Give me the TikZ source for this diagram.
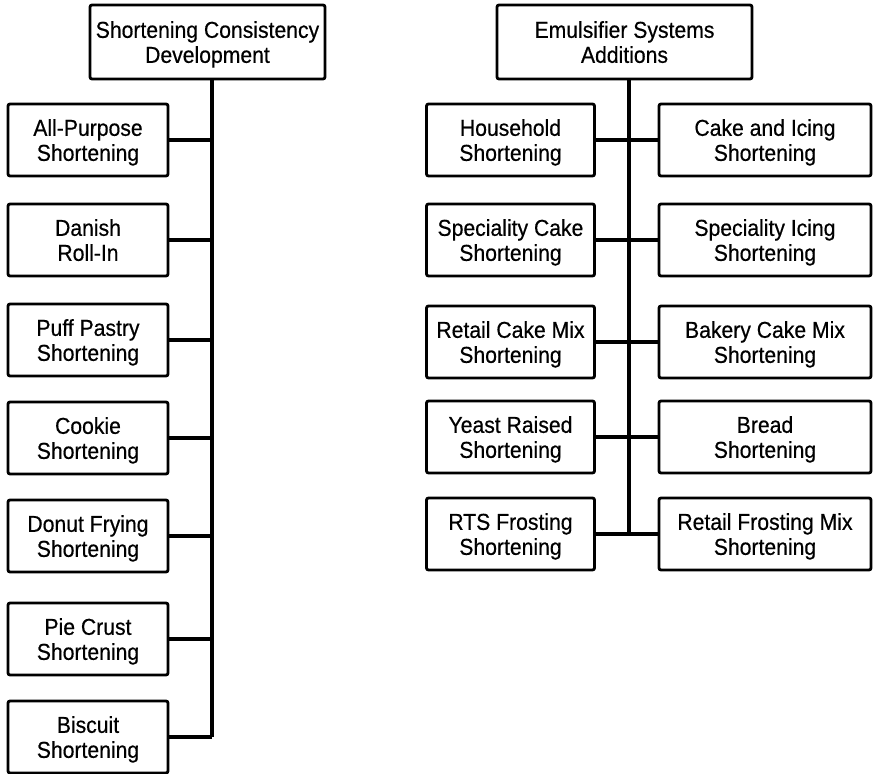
\documentclass[tikz,border=0pt]{standalone}
\usepackage{fontspec}
\setmainfont{Liberation Sans}[FakeStretch=0.92,FakeBold=0.5]
\begin{document}
\begin{tikzpicture}[x=0.5pt,y=-0.5pt,
    box/.style={draw, line width=1.4pt, rounded corners=1pt, align=center, inner sep=0pt,
                text depth=-2pt, font=\fontsize{11.5}{12.5}\selectfont},
    link/.style={line width=1.9pt}]
  \useasboundingbox (0,0) rectangle (873,774);
  % left tree
  \begin{scope}[every node/.style={box, minimum width=80pt, minimum height=36pt}]
    \node[minimum width=117.5pt, minimum height=37pt] (SCD) at (207.5,42) {Shortening Consistency\\Development};
    \node (allp) at (88,140) {All-Purpose\\Shortening};
    \node (dan) at (88,240) {Danish\\Roll-In};
    \node (puff) at (88,340) {Puff Pastry\\Shortening};
    \node (cook) at (88,438) {Cookie\\Shortening};
    \node (donut) at (88,536) {Donut Frying\\Shortening};
    \node (pie) at (88,639) {Pie Crust\\Shortening};
    \node (bisc) at (88,737) {Biscuit\\Shortening};
  \end{scope}
  % right tree
  \begin{scope}[every node/.style={box, minimum width=84pt, minimum height=36pt}]
    \node[minimum width=127.5pt, minimum height=37pt] (ESA) at (624.5,42) {Emulsifier Systems\\Additions};
    \node (house) at (510.5,140) {Household\\Shortening};
    \node (spcake) at (510.5,240) {Speciality Cake\\Shortening};
    \node (rcmix) at (510.5,342) {Retail Cake Mix\\Shortening};
    \node (yeast) at (510.5,437) {Yeast Raised\\Shortening};
    \node (rts) at (510.5,534) {RTS Frosting\\Shortening};
  \end{scope}
  \begin{scope}[every node/.style={box, minimum width=106pt, minimum height=36pt}]
    \node (cakeic) at (765,140) {Cake and Icing\\Shortening};
    \node (spicing) at (765,240) {Speciality Icing\\Shortening};
    \node (bcmix) at (765,342) {Bakery Cake Mix\\Shortening};
    \node (bread) at (765,437) {Bread\\Shortening};
    \node (rfmix) at (765,534) {Retail Frosting Mix\\Shortening};
  \end{scope}
  \coordinate (lspine) at (212,0);
  \coordinate (rspine) at (629,0);
  \draw[link] (SCD.south -| lspine) -- (lspine |- bisc.east);
  \draw[link] (allp.east) -- (allp.east -| lspine);
  \draw[link] (dan.east) -- (dan.east -| lspine);
  \draw[link] (puff.east) -- (puff.east -| lspine);
  \draw[link] (cook.east) -- (cook.east -| lspine);
  \draw[link] (donut.east) -- (donut.east -| lspine);
  \draw[link] (pie.east) -- (pie.east -| lspine);
  \draw[link] (bisc.east) -- (bisc.east -| lspine);
  \draw[link] (ESA.south -| rspine) -- (rspine |- rts.east);
  \draw[link] (house.east) -- (cakeic.west);
  \draw[link] (spcake.east) -- (spicing.west);
  \draw[link] (rcmix.east) -- (bcmix.west);
  \draw[link] (yeast.east) -- (bread.west);
  \draw[link] (rts.east) -- (rfmix.west);
\end{tikzpicture}
\end{document}
